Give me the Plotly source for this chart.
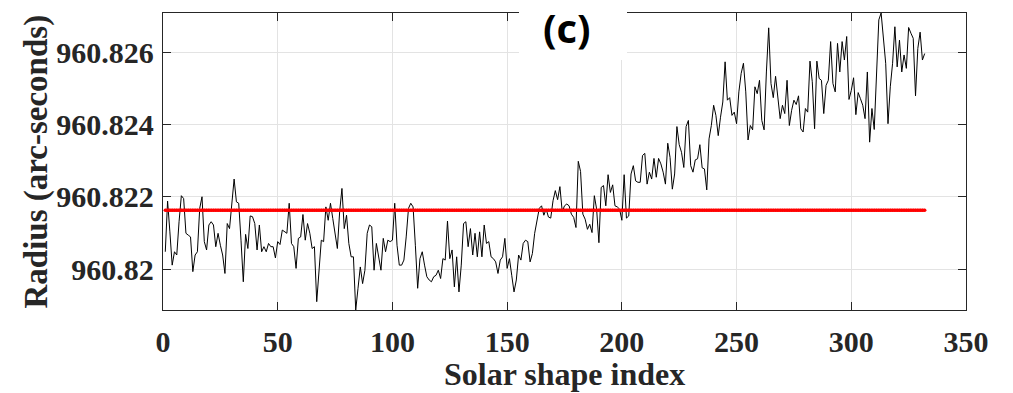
import plotly.graph_objects as go

# Solar shape index (1..332)
shape_index = list(range(1, 333))

radius_seg1 = [960.82048, 960.82188, 960.82103, 960.82011, 960.82048, 960.82039, 960.82131, 960.82203, 960.82195, 960.82099,
               960.82094, 960.82089, 960.81993, 960.82039, 960.82048, 960.82168, 960.82200, 960.82076, 960.82053, 960.82122,
               960.82131, 960.82122, 960.82062, 960.82099, 960.82066, 960.82039, 960.81988, 960.82126, 960.82112, 960.82186,
               960.82249, 960.82186, 960.82182, 960.82080, 960.81965, 960.82096, 960.82057, 960.82147, 960.82145, 960.82126,
               960.82053, 960.82122, 960.82048, 960.82062, 960.82048, 960.82071, 960.82062, 960.82062, 960.82031, 960.82076,
               960.82068, 960.82108, 960.82103, 960.82099, 960.82182]
radius_seg2 = [960.82071, 960.82062, 960.82002, 960.82085, 960.82089, 960.82151, 960.82080, 960.82126, 960.82099, 960.82057,
               960.82062, 960.81910, 960.82011, 960.82080, 960.82076, 960.82172, 960.82135, 960.82182, 960.82140, 960.82103,
               960.82057, 960.82159, 960.82223, 960.82112, 960.82149, 960.82071, 960.82034, 960.82034, 960.81887, 960.81947,
               960.82006, 960.81960, 960.81997, 960.82099, 960.82122, 960.82117, 960.81997, 960.82071, 960.82034, 960.81997,
               960.82085, 960.82048, 960.82080, 960.82076, 960.82080, 960.82182, 960.82066, 960.82011, 960.82011, 960.82025,
               960.82089, 960.82168, 960.82182, 960.82172]
radius_seg3 = [960.82066, 960.81947, 960.82029, 960.82048, 960.82011, 960.81979, 960.81970, 960.81965, 960.81979, 960.81983,
               960.81997, 960.81974, 960.82029, 960.82025, 960.82133, 960.82029, 960.82053, 960.81951, 960.82034, 960.81937,
               960.82011, 960.82126, 960.82131, 960.82062, 960.82112, 960.82039, 960.82099, 960.82034, 960.82103, 960.82034,
               960.82122, 960.82071, 960.82076, 960.82034, 960.82029, 960.82020, 960.81988, 960.82025, 960.82034, 960.82085,
               960.82002, 960.82029, 960.81983, 960.81937, 960.81970, 960.82039, 960.82025, 960.82071, 960.82080, 960.82076,
               960.82020, 960.82043, 960.82099, 960.82131, 960.82168]
radius_seg4 = [960.82175, 960.82149, 960.82166, 960.82144, 960.82141, 960.82189, 960.82217, 960.82192, 960.82228, 960.82159,
               960.82175, 960.82180, 960.82175, 960.82152, 960.82143, 960.82115, 960.82298, 960.82270, 960.82152, 960.82138,
               960.82110, 960.82124, 960.82101, 960.82203, 960.82166, 960.82073, 960.82226, 960.82231, 960.82175, 960.82261,
               960.82212, 960.82233, 960.82175, 960.82172, 960.82166, 960.82135, 960.82261, 960.82141, 960.82147, 960.82263,
               960.82286, 960.82244, 960.82240, 960.82240, 960.82314, 960.82320, 960.82235, 960.82268, 960.82249, 960.82306,
               960.82254, 960.82306]
radius_seg5 = [960.82291, 960.82268, 960.82235, 960.82348, 960.82309, 960.82221, 960.82263, 960.82394, 960.82344, 960.82323,
               960.82281, 960.82394, 960.82411, 960.82286, 960.82268, 960.82302, 960.82305, 960.82344, 960.82280, 960.82277,
               960.82219, 960.82360, 960.82397, 960.82453, 960.82425, 960.82369, 960.82420, 960.82462, 960.82573, 960.82467,
               960.82474, 960.82425, 960.82434, 960.82402, 960.82490, 960.82541, 960.82569, 960.82490, 960.82357, 960.82397,
               960.82385, 960.82504, 960.82485, 960.82522, 960.82411, 960.82385, 960.82545, 960.82667, 960.82513, 960.82474,
               960.82533, 960.82471, 960.82416, 960.82453, 960.82430, 960.82522, 960.82397, 960.82439, 960.82467]
radius_seg6 = [960.82455, 960.82479, 960.82388, 960.82379, 960.82444, 960.82434, 960.82575, 960.82518, 960.82388, 960.82575,
               960.82527, 960.82522, 960.82430, 960.82508, 960.82522, 960.82629, 960.82513, 960.82490, 960.82624, 960.82545,
               960.82629, 960.82578, 960.82643, 960.82469, 960.82494, 960.82529, 960.82427, 960.82488, 960.82471, 960.82453,
               960.82416, 960.82545, 960.82351, 960.82444, 960.82386, 960.82518, 960.82689, 960.82708, 960.82633, 960.82569,
               960.82402, 960.82504, 960.82569, 960.82670, 960.82559, 960.82633, 960.82545, 960.82592, 960.82555, 960.82668,
               960.82652, 960.82638, 960.82479, 960.82610, 960.82655, 960.82578, 960.82596]

radius = radius_seg1 + radius_seg2 + radius_seg3 + radius_seg4 + radius_seg5 + radius_seg6

mean_radius = 960.82163
mean_line = [mean_radius] * len(shape_index)

x_ticks = [0, 50, 100, 150, 200, 250, 300, 350]
y_ticks = [960.820, 960.822, 960.824, 960.826]
y_tick_text = ["960.82", "960.822", "960.824", "960.826"]

W, H = 1013, 393
ML, MR, MT, MB = 163, 47, 13, 83
pw = W - ML - MR
ph = H - MT - MB

fig = go.Figure()
fig.add_trace(go.Scatter(x=shape_index, y=radius, mode="lines",
                         line=dict(color="black", width=1), showlegend=False))
fig.add_trace(go.Scatter(x=shape_index, y=mean_line, mode="lines+markers",
                         line=dict(color="#ff0000", width=3),
                         marker=dict(color="#ff0000", size=3.5), showlegend=False))

tick_font = dict(family="Liberation Serif", size=30, color="#262626", weight="bold")
common = dict(showline=True, linecolor="#262626", linewidth=1.3, mirror="ticks",
              ticks="inside", ticklen=8, tickcolor="#262626", tickwidth=1.3,
              showgrid=True, gridcolor="#e3e3e3", gridwidth=1, zeroline=False,
              tickfont=tick_font)

fig.update_xaxes(range=[0, 350], tickvals=x_ticks, ticklabelstandoff=5, **common)
fig.update_yaxes(range=[960.81887, 960.82708], tickvals=y_ticks, ticktext=y_tick_text,
                 ticklabelstandoff=2, **common)

fig.update_layout(
    width=W, height=H,
    margin=dict(l=ML, r=MR, t=MT, b=MB, pad=0),
    plot_bgcolor="white", paper_bgcolor="white",
    shapes=[dict(type="rect", xref="paper", yref="paper",
                 x0=(519 - ML) / pw, x1=(627 - ML) / pw,
                 y0=1 - (60 - MT) / ph, y1=1 + MT / ph + 0.01,
                 fillcolor="white", line=dict(width=0), layer="above")],
    annotations=[
        dict(text="<b>(c)</b>", xref="paper", yref="paper",
             x=(567 - ML) / pw, y=1 + MT / ph, yanchor="top", xanchor="center",
             yshift=2, showarrow=False,
             font=dict(family="Open Sans", size=40, color="black")),
        dict(text="<b>Radius (arc-seconds)</b>", xref="paper", yref="paper",
             x=0, xshift=-(ML - 36), y=0.5, textangle=-90, xanchor="center", yanchor="middle",
             showarrow=False, font=dict(family="Liberation Serif", size=33, color="#262626")),
        dict(text="<b>Solar shape index</b>", xref="paper", yref="paper",
             x=0.5, y=-MB / ph, yanchor="bottom", xanchor="center", yshift=-1,
             showarrow=False, font=dict(family="Liberation Serif", size=32, color="#262626")),
    ],
)

fig.write_html("out.html")
